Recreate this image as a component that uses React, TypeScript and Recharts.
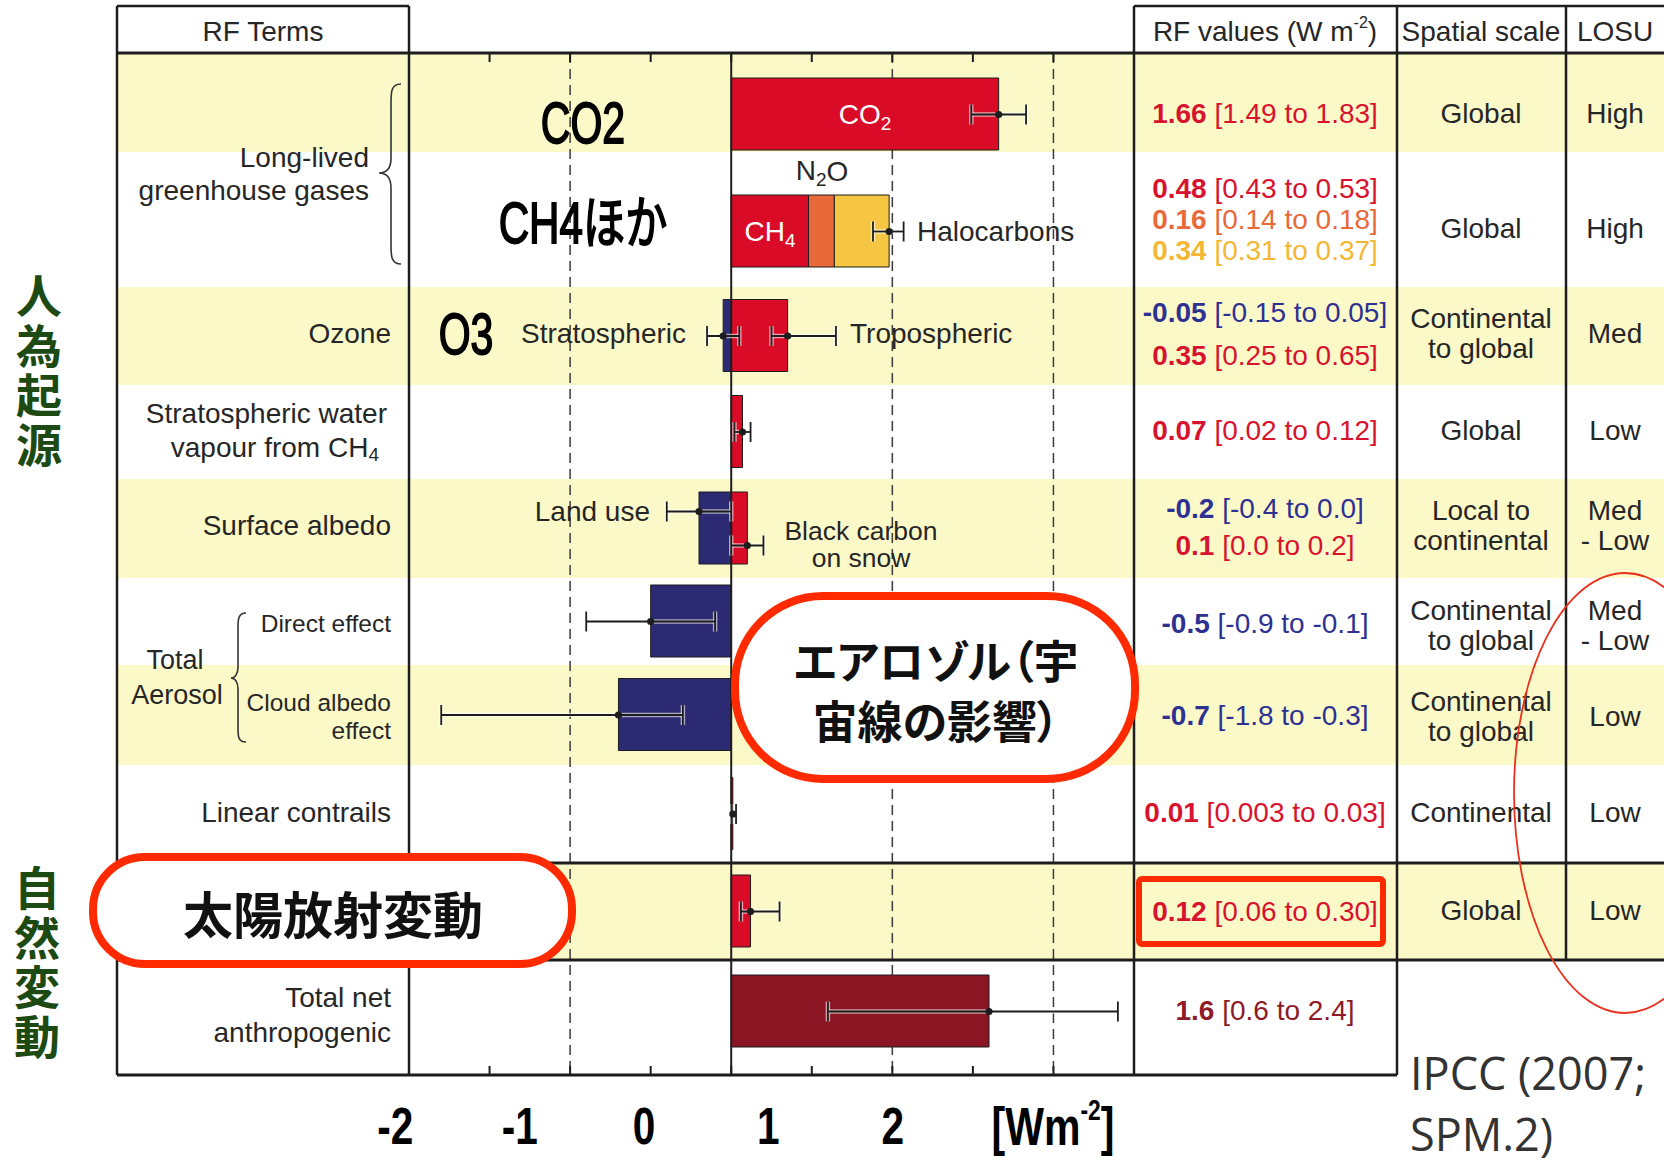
import React from "react";
import {
  ComposedChart,
  Bar,
  Cell,
  Scatter,
  ErrorBar,
  XAxis,
  YAxis,
  ReferenceLine,
} from "recharts";

// table rows, top to bottom
const rowKeys = ["co2", "llghg", "ozone", "h2o", "albedo", "direct", "cloud", "contrails", "solar", "total"];

// RF bar segments (W m-2), null where a row has no such segment
const warming = [1.66, 0.48, 0.35, 0.07, 0.1, null, null, 0.01, 0.12, 1.6];
const n2o = [null, 0.16, null, null, null, null, null, null, null, null];
const halocarbons = [null, 0.34, null, null, null, null, null, null, null, null];
const cooling = [null, null, -0.05, null, -0.2, -0.5, -0.7, null, null, null];

// uncertainty whiskers
const errTerms = ["co2", "ghg", "ozStrat", "ozTrop", "h2o", "landUse", "bcSnow", "direct", "cloud", "contrails", "solar", "total"];
const errRows = ["co2", "llghg", "ozone", "ozone", "h2o", "albedo", "albedo", "direct", "cloud", "contrails", "solar", "total"];
const errMid = [1.66, 0.98, -0.05, 0.35, 0.07, -0.2, 0.1, -0.5, -0.7, 0.01, 0.12, 1.6];
const errLow = [1.49, 0.88, -0.15, 0.25, 0.02, -0.4, 0.0, -0.9, -1.8, 0.003, 0.06, 0.6];
const errHigh = [1.83, 1.07, 0.05, 0.65, 0.12, 0.0, 0.2, -0.1, -0.3, 0.03, 0.3, 2.4];

// axis
const axisTicks = [-2, -1.5, -1, -0.5, 0, 0.5, 1, 1.5, 2, 2.5];
const gridValues = [-1, 1, 2];
const slideTickLabels = [-2, -1, 0, 1, 2];

// RF values column
const valueTerms = ["CO2", "CH4", "N2O", "Halocarbons", "O3 strat", "O3 trop", "H2O strat", "Land use", "BC snow", "Direct", "Cloud albedo", "Contrails", "Solar", "Total net"];
const valueBest = ["1.66", "0.48", "0.16", "0.34", "-0.05", "0.35", "0.07", "-0.2", "0.1", "-0.5", "-0.7", "0.01", "0.12", "1.6"];
const valueRange = ["[1.49 to 1.83]", "[0.43 to 0.53]", "[0.14 to 0.18]", "[0.31 to 0.37]", "[-0.15 to 0.05]", "[0.25 to 0.65]", "[0.02 to 0.12]", "[-0.4 to 0.0]", "[0.0 to 0.2]", "[-0.9 to -0.1]", "[-1.8 to -0.3]", "[0.003 to 0.03]", "[0.06 to 0.30]", "[0.6 to 2.4]"];

const spatialScale = [["Global"], ["Global"], ["Continental", "to global"], ["Global"], ["Local to", "continental"], ["Continental", "to global"], ["Continental", "to global"], ["Continental"], ["Global"], []];
const losu = [["High"], ["High"], ["Med"], ["Low"], ["Med", "- Low"], ["Med", "- Low"], ["Low"], ["Low"], ["Low"], []];

// layout
const W = 1664;
const H = 1164;
const PLOT = { left: 409, right: 1134, top: 53, bottom: 1075 };
const PLOT_H = PLOT.bottom - PLOT.top;
const ROW_H = [99, 135, 98, 94, 99, 87, 100, 98, 97, 115];
// where the bar sits inside its row (the first two sit low, the last one a bit high)
const ROW_BAR_SHIFT = [12, 12, 0, 0, 0, 0, 0, 0, 0, -6];
const rowTop = ROW_H.map((_, i) => ROW_H.slice(0, i).reduce((a, b) => a + b, 0));
const rowMid = ROW_H.map((h, i) => rowTop[i] + h / 2 + ROW_BAR_SHIFT[i]);
const rowIndex: Record<string, number> = Object.fromEntries(rowKeys.map((k, i) => [k, i]));
const VALUE_Y = [113, 188, 219, 250, 312, 355, 430, 508, 545, 623, 715, 812, 911, 1010];
const TEXT_Y = [113, 228, 333, 430, 525, 625, 716, 812, 910, 1010];
const WHISKER_NUDGE: Record<string, number> = { landUse: -17, bcSnow: 17 };

const INK = "#1d1d1d";
const TEXT = "#262626";
const RED = "#da0b27";
const DARK_RED = "#8b1522";
const ORANGE = "#e8693a";
const YELLOW = "#f6c642";
const NAVY = "#2c2a72";
const BAND = "#fcf9c9";
const CALLOUT = "#ff2a00";
const GREEN = "#1c4a12";

const SANS = "'Liberation Sans', Arial, Helvetica, sans-serif";
const SQUEEZED = "'Liberation Sans', Arial, 'Noto Sans CJK JP', sans-serif";
const CJK = "'Noto Sans CJK JP', sans-serif";

const chartData = rowKeys.map((row, i) => ({
  row,
  warming: warming[i],
  n2o: n2o[i],
  halocarbons: halocarbons[i],
  cooling: cooling[i],
}));

const errData = errTerms.map((term, i) => ({
  term,
  row: errRows[i],
  mid: errMid[i],
  lo: errLow[i],
  hi: errHigh[i],
}));

const barY = (d: any) => rowMid[rowIndex[d.row]];
const whiskerY = (d: any) => rowMid[rowIndex[d.row]] + (WHISKER_NUDGE[d.term] ?? 0);
const whiskerSpan = (p: any) => {
  const d = p.payload ?? p;
  return [d.mid - d.lo, d.hi - d.mid];
};

const valueColor = (term: string, best: string) => {
  if (term === "N2O") return "#e8693a";
  if (term === "Halocarbons") return "#f3b733";
  if (term === "Total net") return "#8e1a28";
  return best.startsWith("-") ? "#2e3192" : "#d7132e";
};

function Label({ x, y, anchor = "middle", size = 28, weight = 400, color = TEXT, family = SANS, children }: any) {
  return (
    <text x={x} y={y} textAnchor={anchor} dominantBaseline="central" fontSize={size} fontWeight={weight} fill={color} fontFamily={family}>
      {children}
    </text>
  );
}

// condensed look of the slide's own annotations
function Squeezed({ x, y, size, squeeze = 0.76, bold = false, children }: any) {
  return (
    <text
      transform={`translate(${x},${y}) scale(${squeeze},1)`}
      textAnchor="middle"
      dominantBaseline="central"
      fontSize={size}
      fontWeight={bold ? 700 : 400}
      fontFamily={SQUEEZED}
      fill="#000"
      stroke={bold ? "none" : "#000"}
      strokeWidth={bold ? 0 : 1.8}
    >
      {children}
    </text>
  );
}

function SlideTick(props: any) {
  const { x, y, payload } = props;
  return (
    <Squeezed x={x} y={y + 51} size={52} squeeze={0.78} bold>
      {payload.value}
    </Squeezed>
  );
}

const noTickLabel = () => <g />;

export default function App() {
  return (
    <div style={{ position: "absolute", left: 0, top: 0, width: W, height: H, background: "#fff", overflow: "hidden" }}>
      {/* alternating row shading */}
      <svg width={W} height={H} style={{ position: "absolute", left: 0, top: 0 }}>
        {ROW_H.map((h, i) =>
          i % 2 === 0 ? <rect key={i} x={117} y={PLOT.top + rowTop[i]} width={W - 117} height={h} fill={BAND} /> : null
        )}
      </svg>

      <div style={{ position: "absolute", left: 0, top: 0 }}>
        <ComposedChart
          width={W}
          height={H}
          layout="vertical"
          data={chartData}
          barSize={72}
          stackOffset="sign"
          margin={{ top: PLOT.top, left: PLOT.left, right: W - PLOT.right, bottom: 0 }}
        >
          <XAxis
            xAxisId="top"
            orientation="top"
            mirror
            type="number"
            domain={[-2, 2.5]}
            allowDataOverflow
            ticks={axisTicks}
            interval={0}
            height={1}
            tick={noTickLabel}
            tickSize={9}
            tickLine={{ stroke: INK, strokeWidth: 2 }}
            axisLine={false}
          />
          <XAxis
            xAxisId="bottom"
            orientation="bottom"
            mirror
            type="number"
            domain={[-2, 2.5]}
            allowDataOverflow
            ticks={axisTicks}
            interval={0}
            height={1}
            tick={noTickLabel}
            tickSize={9}
            tickLine={{ stroke: INK, strokeWidth: 2 }}
            axisLine={false}
          />
          {/* the slide's own (hand placed) labels under the axis */}
          <XAxis
            xAxisId="slide"
            orientation="bottom"
            type="number"
            domain={[-1.89, 3.94]}
            allowDataOverflow
            ticks={slideTickLabels}
            interval={0}
            height={89}
            tickSize={0}
            tickMargin={0}
            tickLine={false}
            axisLine={false}
            tick={(p: any) => <SlideTick {...p} />}
          />
          <XAxis xAxisId="whisker" hide type="number" dataKey="mid" domain={[-2, 2.5]} allowDataOverflow />
          <YAxis yAxisId="rows" hide type="number" dataKey={barY} domain={[0, PLOT_H]} allowDataOverflow />
          <YAxis yAxisId="whiskerRows" hide type="number" dataKey={whiskerY} domain={[0, PLOT_H]} allowDataOverflow />

          {gridValues.map((v) => (
            <ReferenceLine
              key={v}
              xAxisId="top"
              yAxisId="rows"
              x={v}
              stroke="#3a3a3a"
              strokeWidth={1.5}
              strokeDasharray="10 6"
              zIndex={-100}
            />
          ))}

          <Bar xAxisId="top" yAxisId="rows" dataKey="warming" stackId="rf" stroke={INK} strokeWidth={1} isAnimationActive={false}>
            {chartData.map((d) => (
              <Cell key={d.row} fill={d.row === "total" ? DARK_RED : RED} />
            ))}
          </Bar>
          <Bar xAxisId="top" yAxisId="rows" dataKey="n2o" stackId="rf" fill={ORANGE} stroke={INK} strokeWidth={1} isAnimationActive={false} />
          <Bar xAxisId="top" yAxisId="rows" dataKey="halocarbons" stackId="rf" fill={YELLOW} stroke={INK} strokeWidth={1} isAnimationActive={false} />
          <Bar xAxisId="top" yAxisId="rows" dataKey="cooling" stackId="rf" fill={NAVY} stroke={INK} strokeWidth={1} isAnimationActive={false} />

          <ReferenceLine xAxisId="top" yAxisId="rows" x={0} stroke={INK} strokeWidth={2} />

          <Scatter
            xAxisId="whisker"
            yAxisId="whiskerRows"
            data={errData}
            isAnimationActive={false}
            shape={(p: any) => <circle cx={p.cx} cy={p.cy} r={3.6} fill={INK} />}
          >
            <ErrorBar dataKey={whiskerSpan} direction="x" width={10} stroke="#fff" strokeOpacity={0.6} strokeWidth={4.5} isAnimationActive={false} />
            <ErrorBar dataKey={whiskerSpan} direction="x" width={10} stroke={INK} strokeWidth={1.8} isAnimationActive={false} />
          </Scatter>
        </ComposedChart>
      </div>

      <svg width={W} height={H} style={{ position: "absolute", left: 0, top: 0, pointerEvents: "none" }}>
        {/* table frame */}
        <g stroke={INK} strokeWidth={2.5} fill="none">
          <path d="M117,6 H409 M1134,6 H1664" />
          <path d="M117,6 V1075 M409,6 V1075 M1134,6 V1075 M1397,6 V1075 M1566,6 V960" />
        </g>
        <g stroke={INK} strokeWidth={3.2} fill="none">
          <path d="M117,53 H1664 M117,863 H1664 M117,960 H1664 M117,1075 H1397" />
        </g>

        {/* headers */}
        <Label x={263} y={31}>RF Terms</Label>
        <text x={1265} y={31} textAnchor="middle" dominantBaseline="central" fontSize={28} fill={TEXT} fontFamily={SANS}>
          RF values (W m<tspan dy={-9} fontSize={16}>-2</tspan>
          <tspan dy={9}>)</tspan>
        </text>
        <Label x={1481} y={31}>Spatial scale</Label>
        <Label x={1615} y={31}>LOSU</Label>

        {/* RF terms column */}
        <Label x={369} y={157} anchor="end">Long-lived</Label>
        <Label x={369} y={190} anchor="end">greenhouse gases</Label>
        <path
          d="M401,84 C391,84 391,92 391,104 L391,158 C391,168 387,173 379,173 C387,173 391,178 391,188 L391,244 C391,256 391,264 401,264"
          fill="none"
          stroke="#333"
          strokeWidth={1.6}
        />
        <Label x={391} y={333} anchor="end">Ozone</Label>
        <Label x={387} y={413} anchor="end">Stratospheric water</Label>
        <text x={379} y={447} textAnchor="end" dominantBaseline="central" fontSize={28} fill={TEXT} fontFamily={SANS}>
          vapour from CH<tspan dy={7} fontSize={19}>4</tspan>
        </text>
        <Label x={391} y={525} anchor="end">Surface albedo</Label>
        <Label x={391} y={623} anchor="end" size={24.5}>Direct effect</Label>
        <Label x={175} y={660} size={27}>Total</Label>
        <Label x={177} y={695} size={27}>Aerosol</Label>
        <path
          d="M246,613 C238,613 238,620 238,628 L238,667 C238,674 235,678 231,678 C235,678 238,682 238,689 L238,728 C238,736 238,742 246,742"
          fill="none"
          stroke="#333"
          strokeWidth={1.6}
        />
        <Label x={391} y={702} anchor="end" size={24.5}>Cloud albedo</Label>
        <Label x={391} y={730} anchor="end" size={24.5}>effect</Label>
        <Label x={391} y={812} anchor="end">Linear contrails</Label>
        <Label x={391} y={997} anchor="end">Total net</Label>
        <Label x={391} y={1032} anchor="end">anthropogenic</Label>

        {/* labels inside the chart */}
        <text x={865} y={PLOT.top + rowMid[0]} textAnchor="middle" dominantBaseline="central" fontSize={28} fill="#fff" fontFamily={SANS}>
          CO<tspan dy={8} fontSize={19}>2</tspan>
        </text>
        <text x={822} y={PLOT.top + rowMid[1] - 61} textAnchor="middle" dominantBaseline="central" fontSize={28} fill={TEXT} fontFamily={SANS}>
          N<tspan dy={8} fontSize={19}>2</tspan>
          <tspan dy={-8}>O</tspan>
        </text>
        <text x={770} y={PLOT.top + rowMid[1]} textAnchor="middle" dominantBaseline="central" fontSize={28} fill="#fff" fontFamily={SANS}>
          CH<tspan dy={8} fontSize={19}>4</tspan>
        </text>
        <Label x={917} y={PLOT.top + rowMid[1]} anchor="start">Halocarbons</Label>
        <Label x={686} y={333} anchor="end">Stratospheric</Label>
        <Label x={850} y={333} anchor="start">Tropospheric</Label>
        <Label x={650} y={511} anchor="end">Land use</Label>
        <text x={861} y={531} textAnchor="middle" dominantBaseline="central" fontSize={26.5} fill={TEXT} fontFamily={SANS}>
          Black carbon
          <tspan x={861} dy={27}>on snow</tspan>
        </text>

        {/* slide annotations */}
        <Squeezed x={583} y={123} size={57} squeeze={0.72}>CO2</Squeezed>
        <Squeezed x={583} y={224} size={57} squeeze={0.74}>CH4ほか</Squeezed>
        <Squeezed x={466} y={334} size={57} squeeze={0.72}>O3</Squeezed>

        {/* RF values */}
        {valueBest.map((best, i) => (
          <text
            key={valueTerms[i]}
            x={1265}
            y={VALUE_Y[i]}
            textAnchor="middle"
            dominantBaseline="central"
            fontSize={28}
            fill={valueColor(valueTerms[i], best)}
            fontFamily={SANS}
          >
            <tspan fontWeight={700}>{best}</tspan>
            {" " + valueRange[i]}
          </text>
        ))}

        {/* spatial scale and LOSU */}
        {spatialScale.map((lines, i) =>
          lines.map((s, j) => (
            <Label key={`s${i}-${j}`} x={1481} y={TEXT_Y[i] + (j - (lines.length - 1) / 2) * 30}>
              {s}
            </Label>
          ))
        )}
        {losu.map((lines, i) =>
          lines.map((s, j) => (
            <Label key={`l${i}-${j}`} x={1615} y={TEXT_Y[i] + (j - (lines.length - 1) / 2) * 30}>
              {s}
            </Label>
          ))
        )}

        {/* unit under the axis */}
        <text
          transform="translate(1053,1126) scale(0.76,1)"
          textAnchor="middle"
          dominantBaseline="central"
          fontFamily={SQUEEZED}
          fontWeight={700}
          fontSize={54}
          fill="#000"
        >
          [Wm<tspan dy={-16} fontSize={30}>-2</tspan>
          <tspan dy={16}>]</tspan>
        </text>

        {/* callouts */}
        <rect x={735} y={596} width={400} height={183} rx={88} fill="#fff" stroke={CALLOUT} strokeWidth={8} />
        <text
          x={936}
          y={659}
          fontFamily={CJK}
          fontWeight={700}
          fontSize={45}
          fill="#111"
          textAnchor="middle"
          dominantBaseline="central"
          style={{ fontFeatureSettings: '"palt"' }}
        >
          エアロゾル（宇
          <tspan x={936} dy={60}>宙線の影響）</tspan>
        </text>
        <rect x={93} y={857} width={479} height={107} rx={52} fill="#fff" stroke={CALLOUT} strokeWidth={8} />
        <text x={333} y={912} fontFamily={CJK} fontWeight={700} fontSize={50} fill="#111" textAnchor="middle" dominantBaseline="central">
          太陽放射変動
        </text>
        <rect x={1139} y={879} width={244} height={65} rx={3} fill="none" stroke={CALLOUT} strokeWidth={6} />
        <ellipse cx={1625} cy={793} rx={111} ry={220} fill="none" stroke="#e8321e" strokeWidth={1.8} />

        {/* left side group labels, written top to bottom */}
        <g fontFamily={CJK} fontWeight={700} fontSize={46} fill={GREEN} style={{ writingMode: "vertical-rl" }} letterSpacing={3.5}>
          <text x={39} y={273}>人為起源</text>
          <text x={37} y={865}>自然変動</text>
        </g>

        {/* source */}
        <g fontFamily="'Open Sans', 'Noto Sans', sans-serif" fontSize={45} fill="#333" dominantBaseline="central">
          <text x={1410} y={1072}>IPCC (2007;</text>
          <text x={1410} y={1133}>SPM.2)</text>
        </g>
      </svg>
    </div>
  );
}
